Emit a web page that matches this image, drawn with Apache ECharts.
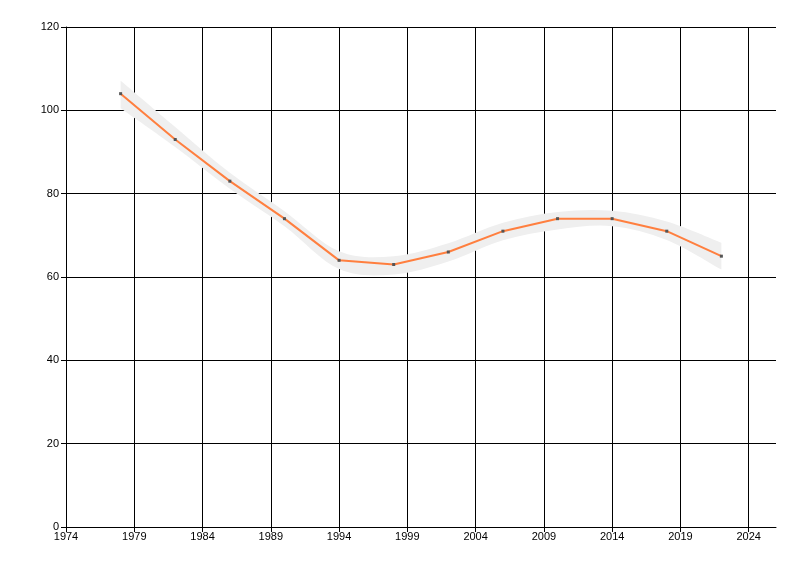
<!DOCTYPE html>
<html><head><meta charset="utf-8">
<script src="https://cdn.jsdelivr.net/npm/echarts@6/dist/echarts.min.js"></script>
<style>html,body{margin:0;padding:0;background:#fff}#c{width:800px;height:576px}</style>
</head><body><div id="c"></div>
<script>
const years = [1978, 1982, 1986, 1990, 1994, 1998, 2002, 2006, 2010, 2014, 2018, 2022];
const values = [104, 93, 83, 74, 64, 63, 66, 71, 74, 74, 71, 65];
const bandUpper = [107.1, 96.0, 85.0, 75.8, 66.2, 65.0, 68.1, 73.0, 75.6, 75.9, 73.3, 68.2];
const bandLower = [100.5, 91.2, 81.2, 72.2, 61.9, 60.6, 63.7, 68.8, 71.4, 72.2, 68.9, 61.8];
const xTicks = {min: 1974, max: 2026, interval: 5};
const yTicks = {min: 0, max: 120, interval: 20};

function splinePath(pts, t, start) {
  let d = start ? 'M' + pts[0][0] + ' ' + pts[0][1] : 'L' + pts[0][0] + ' ' + pts[0][1];
  for (let i = 0; i < pts.length - 1; i++) {
    const p0 = pts[Math.max(0, i - 1)], p1 = pts[i], p2 = pts[i + 1], p3 = pts[Math.min(pts.length - 1, i + 2)];
    const c1 = [p1[0] + (p2[0] - p0[0]) * t / 6, p1[1] + (p2[1] - p0[1]) * t / 6];
    const c2 = [p2[0] - (p3[0] - p1[0]) * t / 6, p2[1] - (p3[1] - p1[1]) * t / 6];
    d += ' C' + c1[0] + ' ' + c1[1] + ' ' + c2[0] + ' ' + c2[1] + ' ' + p2[0] + ' ' + p2[1];
  }
  return d;
}

const font = 'Liberation Sans';
const chart = echarts.init(document.getElementById('c'), null, {renderer: 'canvas'});
chart.setOption({
  animation: false,
  backgroundColor: '#fff',
  grid: {left: 66, right: 24, top: 27, bottom: 49},
  xAxis: {
    type: 'value', min: xTicks.min, max: xTicks.max, interval: xTicks.interval,
    axisLine: {show: true, lineStyle: {color: '#000', width: 1}},
    axisTick: {show: true, inside: false, length: 5, lineStyle: {color: '#000'}},
    axisLabel: {color: '#000', fontFamily: font, fontSize: 11, margin: 4, showMaxLabel: false,
      formatter: v => (v === xTicks.max ? '' : String(v))},
    splitLine: {show: true, showMinLine: false, showMaxLine: false, lineStyle: {color: '#000', width: 1}}
  },
  yAxis: {
    type: 'value', min: yTicks.min, max: yTicks.max, interval: yTicks.interval,
    axisLine: {show: true, lineStyle: {color: '#000', width: 1}},
    axisTick: {show: true, inside: false, length: 5, lineStyle: {color: '#000'}},
    axisLabel: {color: '#000', fontFamily: font, fontSize: 11, margin: 7},
    splitLine: {show: true, showMinLine: false, lineStyle: {color: '#000', width: 1}}
  },
  series: [
    {
      type: 'custom', silent: true, z: 1,
      data: [[years[0], bandUpper[0]]],
      renderItem: function (params, api) {
        const up = years.map((y, i) => api.coord([y, bandUpper[i]]));
        const lo = years.map((y, i) => api.coord([y, bandLower[i]])).reverse();
        const d = splinePath(up, 1, true) + ' ' + splinePath(lo, 1, false) + ' Z';
        return {type: 'path', shape: {pathData: d}, style: {fill: '#efefef', stroke: null}};
      }
    },
    {
      type: 'line', smooth: false, symbol: 'rect', symbolSize: 3,
      data: years.map((y, i) => [y, values[i]]),
      lineStyle: {color: '#ff7f3f', width: 2},
      itemStyle: {color: '#555555'}, z: 3
    }
  ]
});
</script></body></html>
